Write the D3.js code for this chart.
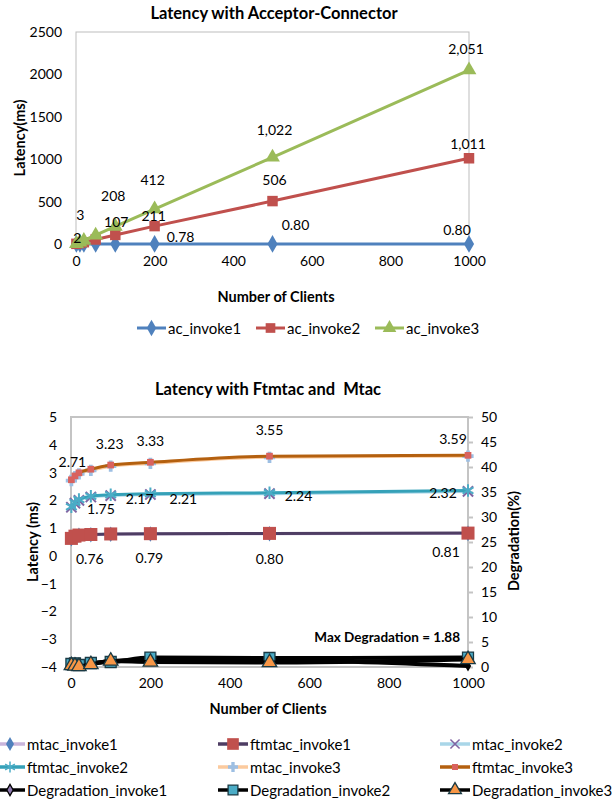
<!DOCTYPE html>
<html><head><meta charset="utf-8">
<script src="https://cdn.jsdelivr.net/npm/d3@7"></script>
<style>
body{margin:0;background:#fff;}
text{font-family:Lato,"Open Sans",sans-serif;}
</style></head>
<body><svg id="c" width="613" height="800"></svg>
<script>
// ---------- DATA ----------
const clients = [1, 10, 20, 50, 100, 200, 500, 1000];
const ac_invoke1 = [0.70, 0.74, 0.75, 0.77, 0.77, 0.78, 0.80, 0.80];
const ac_invoke2 = [2, 11, 21, 53, 107, 211, 506, 1011];
const ac_invoke3 = [3, 21, 42, 104, 208, 412, 1022, 2051];
const ac_yTicks = [0, 500, 1000, 1500, 2000, 2500];
const xTicks = [0, 200, 400, 600, 800, 1000];

const mtac_invoke1 = [0.62, 0.70, 0.74, 0.76, 0.78, 0.79, 0.80, 0.81];
const ftmtac_invoke1 = [0.63, 0.71, 0.75, 0.77, 0.79, 0.80, 0.81, 0.82];
const mtac_invoke2 = [1.75, 1.90, 2.00, 2.12, 2.17, 2.21, 2.24, 2.32];
const ftmtac_invoke2 = [1.77, 1.92, 2.03, 2.15, 2.20, 2.24, 2.27, 2.35];
const mtac_invoke3 = [2.71, 2.85, 2.95, 3.08, 3.23, 3.33, 3.55, 3.59];
const ftmtac_invoke3 = [2.74, 2.88, 2.99, 3.12, 3.27, 3.37, 3.59, 3.62];
const degradation_invoke1 = [0.4, 0.5, 0.3, 0.7, 1.2, 1.5, 1.4, 0.2];
const degradation_invoke2 = [0.6, 0.7, 0.4, 0.8, 1.0, 1.88, 1.8, 1.88];
const degradation_invoke3 = [0.3, 0.2, 0.1, 0.5, 1.2, 1.0, 0.9, 1.5];
const lat_yTicks = [-4, -3, -2, -1, 0, 1, 2, 3, 4, 5];
const deg_yTicks = [0, 5, 10, 15, 20, 25, 30, 35, 40, 45, 50];

// labels: [series, index, text]
const acLabels = [
  ["ac_invoke3", 0, "3"], ["ac_invoke2", 0, "2"],
  ["ac_invoke3", 4, "208"], ["ac_invoke2", 4, "107"],
  ["ac_invoke3", 5, "412"], ["ac_invoke2", 5, "211"], ["ac_invoke1", 5, "0.78"],
  ["ac_invoke3", 6, "1,022"], ["ac_invoke2", 6, "506"], ["ac_invoke1", 6, "0.80"],
  ["ac_invoke3", 7, "2,051"], ["ac_invoke2", 7, "1,011"], ["ac_invoke1", 7, "0.80"]
];
const latLabels = [
  ["mtac_invoke3", 0, "2.71"], ["mtac_invoke3", 4, "3.23"], ["mtac_invoke3", 5, "3.33"],
  ["mtac_invoke3", 6, "3.55"], ["mtac_invoke3", 7, "3.59"],
  ["mtac_invoke2", 2, "1.75"], ["mtac_invoke2", 4, "2.17"], ["mtac_invoke2", 5, "2.21"],
  ["mtac_invoke2", 6, "2.24"], ["mtac_invoke2", 7, "2.32"],
  ["mtac_invoke1", 3, "0.76"], ["mtac_invoke1", 5, "0.79"], ["mtac_invoke1", 6, "0.80"],
  ["mtac_invoke1", 7, "0.81"]
];
// label offsets (layout only)
const acLabelOff = [[4,-29],[1,-6],[-2,-31],[1,-13],[-2,-30],[-1,-11],[26,-7],[2,-28],[2,-22],[23,-19],[-3,-22],[-1,-15],[-12,-14]];
const latLabelOff = [[1,-19],[-1,-23],[0,-23],[0,-28],[-15,-18],[22,8],[29,3],[33,4],[29,2],[-25,1],[-1,24],[-1,24],[0,25],[-22,18]];

const svg = d3.select("#c");
const FONT = "Lato, 'Open Sans', sans-serif";
const TICK = 14, LBL = 14, LEG = 15, ATITLE = 14.5;

function marker(g, type, x, y, size, fill, stroke, sw) {
  const sym = {diamond: d3.symbolDiamond, square: d3.symbolSquare, triangle: d3.symbolTriangle,
               cross: d3.symbolCross, x: d3.symbolTimes, asterisk: d3.symbolAsterisk}[type];
  return g.append("path").attr("d", d3.symbol().type(sym).size(size)())
    .attr("transform", `translate(${x},${y})`)
    .attr("fill", fill).attr("stroke", stroke || "none").attr("stroke-width", sw || 0);
}

// ================= CHART 1 =================
const x1 = d3.scaleLinear().domain([0, 1000]).range([76, 469]);
const y1 = d3.scaleLinear().domain([0, 2500]).range([244, 32]);
const c1 = svg.append("g");
c1.append("rect").attr("x", 76).attr("y", 32).attr("width", 393).attr("height", 212)
  .attr("fill", "none").attr("stroke", "#bdbdbd").attr("stroke-width", 1);

c1.append("g").attr("transform", "translate(76,0)")
  .call(d3.axisLeft(y1).tickValues(ac_yTicks).tickSize(0).tickPadding(14).tickFormat(d3.format("d")))
  .call(g => g.select(".domain").remove())
  .selectAll("text").attr("font-size", TICK).attr("font-family", FONT).attr("fill", "#000");
c1.append("g").attr("transform", "translate(0,244)")
  .call(d3.axisBottom(x1).tickValues(xTicks).tickSize(0).tickPadding(12).tickFormat(d3.format("d")))
  .call(g => g.select(".domain").remove())
  .selectAll("text").attr("font-size", TICK).attr("font-family", FONT).attr("fill", "#000");

const acSeries = [
  {name: "ac_invoke1", vals: ac_invoke1, color: "#4f81bd", m: "diamond", ms: 90},
  {name: "ac_invoke2", vals: ac_invoke2, color: "#c0504d", m: "square", ms: 110},
  {name: "ac_invoke3", vals: ac_invoke3, color: "#9bbb59", m: "triangle", ms: 95}
];
const line1 = d3.line().x((d, i) => x1(clients[i])).y(d => y1(d));
acSeries.forEach(s => {
  c1.append("path").datum(s.vals).attr("d", line1).attr("fill", "none")
    .attr("stroke", s.color).attr("stroke-width", 3);
  s.vals.forEach((v, i) => marker(c1, s.m, x1(clients[i]), y1(v), s.ms, s.color));
});
acLabels.forEach((l, k) => {
  const s = acSeries.find(q => q.name === l[0]);
  c1.append("text").attr("x", x1(clients[l[1]]) + acLabelOff[k][0]).attr("y", y1(s.vals[l[1]]) + acLabelOff[k][1])
    .attr("text-anchor", "middle").attr("dominant-baseline", "central")
    .attr("font-size", LBL).text(l[2]);
});
c1.append("text").attr("x", 274).attr("y", 13).attr("text-anchor", "middle").attr("dominant-baseline", "central")
  .attr("font-size", 16.5).attr("font-weight", "bold").text("Latency with Acceptor-Connector");
c1.append("text").attr("transform", "translate(19,138) rotate(-90)").attr("text-anchor", "middle")
  .attr("dominant-baseline", "central").attr("font-size", ATITLE).attr("font-weight", "bold").text("Latency(ms)");
c1.append("text").attr("x", 276).attr("y", 296).attr("text-anchor", "middle").attr("dominant-baseline", "central")
  .attr("font-size", ATITLE).attr("font-weight", "bold").text("Number of Clients");
const leg1x = [137, 256, 375];
acSeries.forEach((s, i) => {
  const lx = leg1x[i], ly = 328;
  c1.append("line").attr("x1", lx).attr("x2", lx + 29).attr("y1", ly).attr("y2", ly)
    .attr("stroke", s.color).attr("stroke-width", 3);
  marker(c1, s.m, lx + 14.5, ly, s.ms * 0.85, s.color);
  c1.append("text").attr("x", lx + 31).attr("y", ly).attr("dominant-baseline", "central")
    .attr("font-size", LEG).text(s.name);
});

// ================= CHART 2 =================
const x2 = d3.scaleLinear().domain([0, 1000]).range([71, 468]);
const y2 = d3.scaleLinear().domain([-4, 5]).range([667, 417]);
const y2r = d3.scaleLinear().domain([0, 50]).range([667, 417]);
const c2 = svg.append("g");
c2.append("rect").attr("x", 71).attr("y", 417).attr("width", 397).attr("height", 250)
  .attr("fill", "none").attr("stroke", "#c4c4c4").attr("stroke-width", 2);

c2.append("g").attr("transform", "translate(71,0)")
  .call(d3.axisLeft(y2).tickValues(lat_yTicks).tickSize(0).tickPadding(14).tickFormat(d3.format("d")))
  .call(g => g.select(".domain").remove())
  .selectAll("text").attr("font-size", TICK).attr("font-family", FONT).attr("fill", "#000");
c2.append("g").attr("transform", "translate(468,0)")
  .call(d3.axisRight(y2r).tickValues(deg_yTicks).tickSize(5).tickPadding(8).tickFormat(d3.format("d")))
  .call(g => g.select(".domain").remove())
  .call(g => g.selectAll("line").attr("stroke", "#c4c4c4").attr("stroke-width", 2))
  .selectAll("text").attr("font-size", TICK).attr("font-family", FONT).attr("fill", "#000");
c2.append("g").attr("transform", "translate(0,667)")
  .call(d3.axisBottom(x2).tickValues(xTicks).tickSize(0).tickPadding(11).tickFormat(d3.format("d")))
  .call(g => g.select(".domain").remove())
  .selectAll("text").attr("font-size", TICK).attr("font-family", FONT).attr("fill", "#000");

const latSeries = [
  {name: "mtac_invoke1", vals: mtac_invoke1, line: "#c9b5db", m: "diamond", mf: "#4f81bd", ms: 70, axis: "L"},
  {name: "ftmtac_invoke1", vals: ftmtac_invoke1, line: "#4e3d63", m: "square", mf: "#c0504d", ms: 170, axis: "L"},
  {name: "mtac_invoke2", vals: mtac_invoke2, line: "#a9d6e8", m: "x", mf: "none", ms: 70, ms_stroke: "#8064a2", axis: "L"},
  {name: "ftmtac_invoke2", vals: ftmtac_invoke2, line: "#35a1b8", m: "asterisk", mf: "none", ms: 110, ms_stroke: "#4bacc6", axis: "L"},
  {name: "mtac_invoke3", vals: mtac_invoke3, line: "#fbca9e", m: "cross", mf: "#9dbfe3", ms: 70, axis: "L"},
  {name: "ftmtac_invoke3", vals: ftmtac_invoke3, line: "#b4600f", m: "square", mf: "#d9625e", ms: 45, axis: "L"},
  {name: "Degradation_invoke1", vals: degradation_invoke1, line: "#000", m: "diamond", mf: "#8f7bb0", ms: 45, ms_stroke: "#000", axis: "R", chartMs: 20},
  {name: "Degradation_invoke2", vals: degradation_invoke2, line: "#000", m: "square", mf: "#4bacc6", ms: 120, ms_stroke: "#1a3a44", axis: "R"},
  {name: "Degradation_invoke3", vals: degradation_invoke3, line: "#000", m: "triangle", mf: "#f79646", ms: 90, ms_stroke: "#1a3a44", axis: "R"}
];
latSeries.forEach(s => {
  const ys = s.axis === "L" ? y2 : y2r;
  const ln = d3.line().x((d, i) => x2(clients[i])).y(d => ys(d)).curve(d3.curveMonotoneX);
  c2.append("path").datum(s.vals).attr("d", ln).attr("fill", "none")
    .attr("stroke", s.line).attr("stroke-width", s.axis === "R" ? 4 : 3);
  s.vals.forEach((v, i) => {
    const sw = s.ms_stroke ? (s.m === "x" || s.m === "asterisk" ? 2 : 1.3) : 0;
    marker(c2, s.m, x2(clients[i]), ys(v), s.chartMs || s.ms, s.chartMs ? "#000" : s.mf, s.ms_stroke, sw);
  });
});
latLabels.forEach((l, k) => {
  const s = latSeries.find(q => q.name === l[0]);
  c2.append("text").attr("x", x2(clients[l[1]]) + latLabelOff[k][0]).attr("y", y2(s.vals[l[1]]) + latLabelOff[k][1])
    .attr("text-anchor", "middle").attr("dominant-baseline", "central")
    .attr("font-size", LBL).text(l[2]);
});
c2.append("text").attr("x", 460).attr("y", 637).attr("text-anchor", "end").attr("dominant-baseline", "central")
  .attr("font-size", 13.5).attr("font-weight", "bold").text("Max Degradation = 1.88");
c2.append("text").attr("x", 268).attr("y", 389).attr("text-anchor", "middle").attr("dominant-baseline", "central")
  .attr("font-size", 16.5).attr("font-weight", "bold").style("white-space", "pre")
  .text("Latency with Ftmtac and  Mtac");
c2.append("text").attr("transform", "translate(32,542) rotate(-90)").attr("text-anchor", "middle")
  .attr("dominant-baseline", "central").attr("font-size", ATITLE).attr("font-weight", "bold").text("Latency (ms)");
c2.append("text").attr("transform", "translate(513,541) rotate(-90)").attr("text-anchor", "middle")
  .attr("dominant-baseline", "central").attr("font-size", ATITLE).attr("font-weight", "bold").text("Degradation(%)");
c2.append("text").attr("x", 268).attr("y", 708).attr("text-anchor", "middle").attr("dominant-baseline", "central")
  .attr("font-size", ATITLE).attr("font-weight", "bold").text("Number of Clients");

const leg2x = [-5, 218, 440], leg2y = [744, 767, 790];
latSeries.forEach((s, i) => {
  const lx = leg2x[i % 3], ly = leg2y[Math.floor(i / 3)];
  c2.append("line").attr("x1", lx).attr("x2", lx + 30).attr("y1", ly).attr("y2", ly)
    .attr("stroke", s.line).attr("stroke-width", 3.5);
  const sw = s.ms_stroke ? (s.m === "x" || s.m === "asterisk" ? 1.5 : 1.3) : 0;
  marker(c2, s.m, lx + 15, ly, s.ms * 0.8, s.mf, s.ms_stroke, sw);
  c2.append("text").attr("x", lx + 32).attr("y", ly).attr("dominant-baseline", "central")
    .attr("font-size", LEG).text(s.name);
});
</script></body></html>
